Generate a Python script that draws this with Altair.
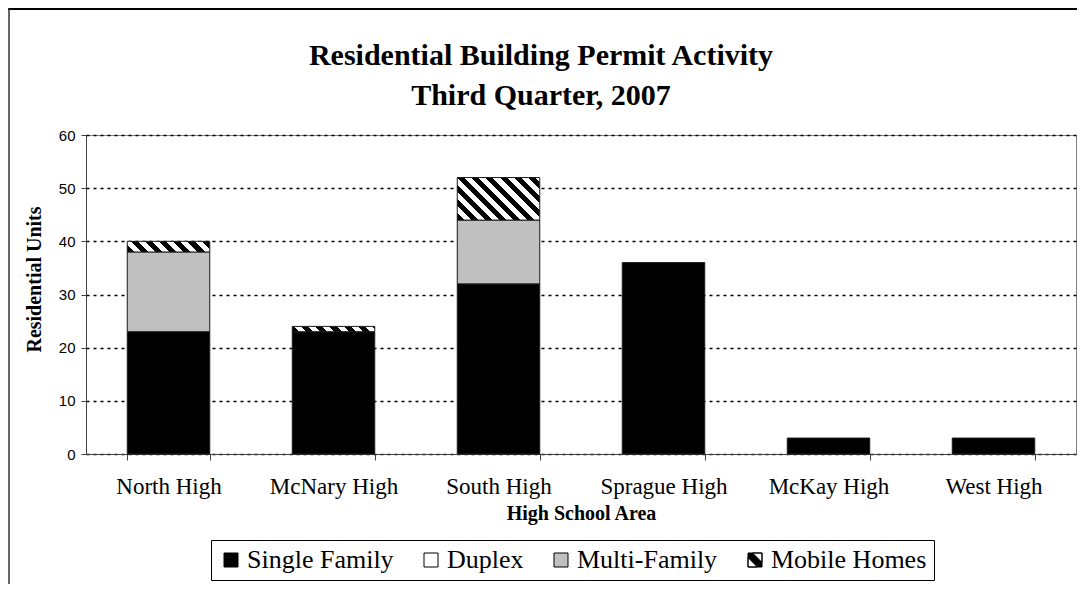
import math
import altair as alt
import pandas as pd

# ---- data ----
schools = ["North High", "McNary High", "South High", "Sprague High", "McKay High", "West High"]
types = ["Single Family", "Duplex", "Multi-Family", "Mobile Homes"]
single_family = [23, 23, 32, 36, 3, 3]
duplex = [0, 0, 0, 0, 0, 0]
multi_family = [15, 0, 12, 0, 0, 0]
mobile_homes = [2, 1, 8, 0, 0, 0]
y_ticks = [0, 10, 20, 30, 40, 50, 60]
type_colors = ["#000000", "#ffffff", "#c0c0c0", "#000000"]
title_lines = ["Residential Building Permit Activity", "Third Quarter, 2007"]

W, H = 990, 319
SERIF = "Liberation Serif"
SANS = "Liberation Sans"

rows = []
for i, s in enumerate(schools):
    for k, (t, vals) in enumerate(zip(types, [single_family, duplex, multi_family, mobile_homes])):
        rows.append({"school": s, "type": t, "order": k, "value": vals[i]})
df = pd.DataFrame(rows)

# square with a diagonal band (hatch symbol for legend)
mobile_symbol = ("M-1,-1H1V1H-1Z "
                 "M-0.35,-1L1,0.35L1,-1Z "
                 "M-1,-0.35L-1,1L0.35,1Z")

x_enc = alt.X("school:N", sort=schools,
              scale=alt.Scale(paddingInner=0.5, paddingOuter=0.25),
              axis=alt.Axis(title="High School Area", titleFont=SERIF, titleFontSize=20,
                            titleFontWeight="bold", titleColor="black", titlePadding=5,
                            labelFont=SERIF, labelFontSize=23, labelColor="black",
                            labelAngle=0, labelPadding=15, tickBand="extent", tickSize=6,
                            tickColor="#404040", domainColor="#404040", grid=False))
y_enc = alt.Y("y0:Q", scale=alt.Scale(domain=[0, 60], nice=False),
              axis=alt.Axis(values=y_ticks, format="d", title="Residential Units",
                            titleFont=SERIF, titleFontSize=20, titleFontWeight="bold",
                            titleColor="black", titlePadding=14, titleY=144,
                            labelFont=SANS, labelFontSize=15, labelColor="black",
                            labelPadding=6, tickSize=5, tickColor="#404040",
                            domainColor="#404040", grid=True, gridColor="black",
                            gridDash=[3, 4], gridWidth=1.5))

fill_scale = alt.Scale(domain=types, range=type_colors)

base = alt.Chart(df).transform_stack(
    stack="value", groupby=["school"], as_=["y0", "y1"], sort=[alt.SortField("order")]
)

bars = base.transform_filter(
    "datum.value > 0 && datum.type != 'Mobile Homes'"
).mark_bar(stroke="#1a1a1a", strokeWidth=1).encode(
    x=x_enc, y=y_enc, y2="y1:Q",
    fill=alt.Fill("type:N", scale=fill_scale, legend=None),
)


def hatch_gradient(units):
    h = units * H / 60.0
    w = 82.5
    r = h / w
    k = (1 + r) / (1 + r * r)
    n = (w + h) / (math.sqrt(2) * 10.0)
    stops = []
    i = 0
    while i / n < 1:
        a = i / n
        b = min((i + 0.5) / n, 1.0)
        c = min((i + 1) / n, 1.0)
        stops += [alt.GradientStop(offset=a, color="black"),
                  alt.GradientStop(offset=b, color="black"),
                  alt.GradientStop(offset=b, color="white"),
                  alt.GradientStop(offset=c, color="white")]
        i += 1
    return alt.LinearGradient(gradient="linear", stops=stops,
                              x1=0, y1=1, x2=k, y2=1 - k * r)


hatch_layers = []
for s, m in zip(schools, mobile_homes):
    if m > 0:
        hatch_layers.append(
            base.transform_filter(
                f"datum.school == '{s}' && datum.type == 'Mobile Homes'"
            ).mark_bar(stroke="#1a1a1a", strokeWidth=1, fill=hatch_gradient(m)).encode(
                x=x_enc, y=y_enc, y2="y1:Q"
            )
        )

legend_def = alt.Legend(title=None, orient="none", legendX=125, legendY=405,
                        direction="horizontal", labelFont=SERIF, labelFontSize=26,
                        labelColor="black", labelLimit=400, symbolSize=196,
                        symbolStrokeColor="black", symbolStrokeWidth=1,
                        strokeColor="black", fillColor="white", padding=7,
                        columnPadding=24, labelOffset=3)

legend_layer = base.transform_filter("false").mark_point(
    filled=True, stroke="black", strokeWidth=1, opacity=1
).encode(
    color=alt.Color("type:N", scale=alt.Scale(domain=types, range=type_colors),
                    legend=legend_def),
    shape=alt.Shape("type:N",
                    scale=alt.Scale(domain=types,
                                    range=["square", "square", "square", mobile_symbol]),
                    legend=legend_def),
)

one = alt.Data(values=[{"k": 1}])
title1 = alt.Chart(one).mark_text(font=SERIF, fontSize=30, fontWeight="bold", color="black",
                                  align="center", baseline="alphabetic").encode(
    x=alt.value(455), y=alt.value(-70), text=alt.value(title_lines[0]))
title2 = alt.Chart(one).mark_text(font=SERIF, fontSize=30, fontWeight="bold", color="black",
                                  align="center", baseline="alphabetic").encode(
    x=alt.value(455), y=alt.value(-30), text=alt.value(title_lines[1]))

frame_top = alt.Chart(one).mark_rule(color="black", strokeWidth=2).encode(
    x=alt.value(-78), x2=alt.value(W + 1), y=alt.value(-126)
)
frame_left = alt.Chart(one).mark_rule(color="#333333", strokeWidth=1.5).encode(
    x=alt.value(-77), y=alt.value(-127), y2=alt.value(H + 130)
)

chart = alt.layer(bars, *hatch_layers, legend_layer, title1, title2,
                  frame_top, frame_left).resolve_scale(
    fill="independent", color="independent", shape="independent"
).properties(
    width=W, height=H,
    autosize=alt.AutoSizeParams(type="none"),
    padding={"left": 78, "top": 127, "right": 1, "bottom": 130},
    background="white",
).configure(
    font=SERIF
).configure_view(
    stroke="#808080", strokeWidth=1
).configure_legend(
    labelFont=SERIF, labelFontSize=26, symbolStrokeColor="black", symbolStrokeWidth=1
)

chart.save("out.html", embed_options={"renderer": "svg", "actions": False})
